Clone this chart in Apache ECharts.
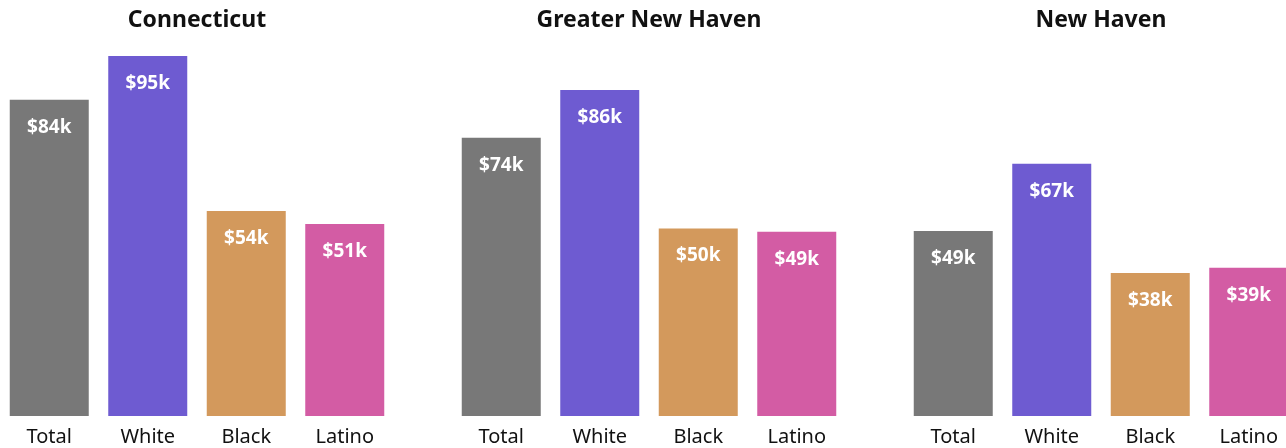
<!DOCTYPE html>
<html>
<head>
<meta charset="utf-8">
<script src="https://cdn.jsdelivr.net/npm/echarts@6/dist/echarts.min.js"></script>
<style>
html,body{margin:0;padding:0;background:#fff;}
#chart{width:1286px;height:448px;}
</style>
</head>
<body>
<div id="chart"></div>
<script>
const panelTitles = ["Connecticut", "Greater New Haven", "New Haven"];
const categories = ["Total", "White", "Black", "Latino"];
const connecticutValues = [83.6, 95.2, 54.2, 50.8];
const greaterNewHavenValues = [73.6, 86.2, 49.6, 48.7];
const newHavenValues = [48.9, 66.7, 37.8, 39.2];
const barColors = ["#787878", "#6e5bd1", "#d3995c", "#d35ca4"];

const panelData = [connecticutValues, greaterNewHavenValues, newHavenValues];
const FONT = "Noto Sans";
const panelLeft = [0, 452, 904];
const panelWidth = 394;

const chart = echarts.init(document.getElementById('chart'));
const option = {
  animation: false,
  backgroundColor: '#fff',
  title: panelTitles.map((t, i) => ({
    text: t,
    left: panelLeft[i] + panelWidth / 2 - 5,
    textAlign: 'center',
    top: 4,
    padding: 5,
    textStyle: { fontFamily: FONT, fontWeight: 'bold', fontSize: 23, color: '#111' }
  })),
  grid: panelLeft.map((l, i) => ({ left: l, width: panelWidth, top: 0, bottom: 32, containLabel: false, outerBoundsMode: 'none' })),
  xAxis: panelLeft.map((l, i) => ({
    type: 'category',
    gridIndex: i,
    data: categories,
    axisLine: { show: false },
    axisTick: { show: false },
    axisLabel: { fontFamily: FONT, fontSize: 20, color: '#111', margin: 11 }
  })),
  yAxis: panelLeft.map((l, i) => ({
    type: 'value',
    gridIndex: i,
    min: 0,
    max: 110,
    show: false,
    splitLine: { show: false }
  })),
  series: panelData.map((vals, i) => ({
    type: 'bar',
    xAxisIndex: i,
    yAxisIndex: i,
    barWidth: 79,
    data: vals.map((v, j) => ({ value: v, itemStyle: { color: barColors[j] } })),
    label: {
      show: true,
      position: 'insideTop',
      distance: 18,
      formatter: p => '$' + Math.round(p.value) + 'k',
      fontFamily: FONT,
      fontWeight: 'bold',
      fontSize: 19,
      color: '#fff'
    }
  }))
};
chart.setOption(option);
</script>
</body>
</html>
